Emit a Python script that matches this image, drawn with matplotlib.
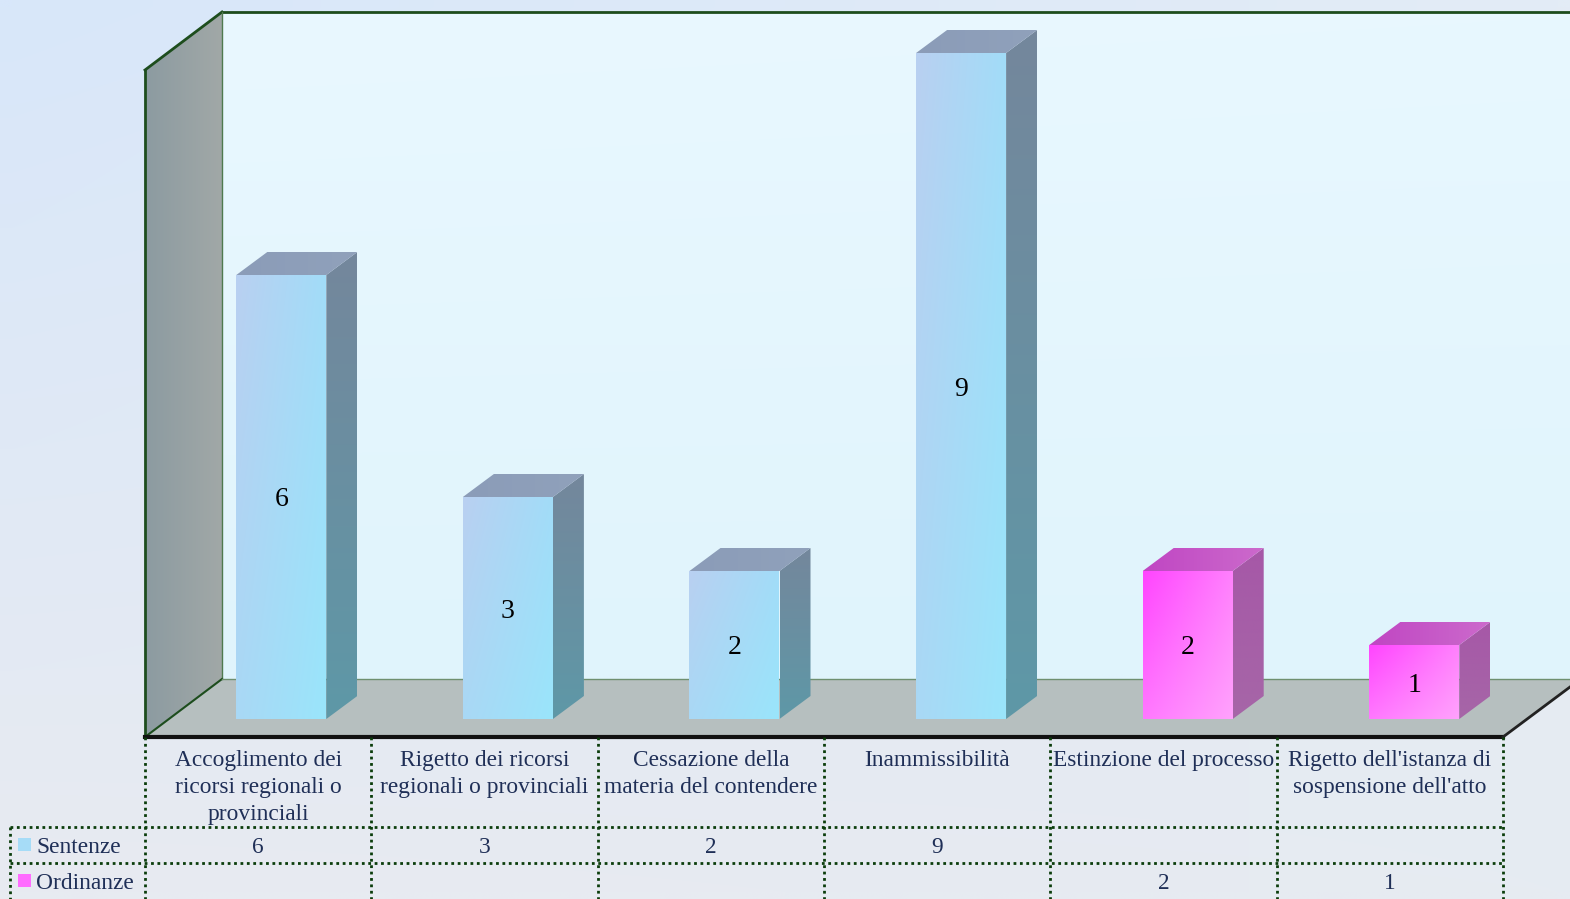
import numpy as np
import matplotlib
matplotlib.use("Agg")
import matplotlib.pyplot as plt
from matplotlib.patches import Polygon, Rectangle
from matplotlib.colors import to_rgb

# ---------------- data ----------------
categories = ["Accoglimento dei\nricorsi regionali o\nprovinciali",
              "Rigetto dei ricorsi\nregionali o provinciali",
              "Cessazione della\nmateria del contendere",
              "Inammissibilità",
              "Estinzione del processo",
              "Rigetto dell'istanza di\nsospensione dell'atto"]
series_names = ["Sentenze", "Ordinanze"]
sentenze = [6, 3, 2, 9, None, None]
ordinanze = [None, None, None, None, 2, 1]
series_values = [sentenze, ordinanze]
y_axis_max = 10

# ---------------- styles ----------------
W, H = 1570, 899
FONT = ["Liberation Serif", "DejaVu Serif"]
TXT = "#1f2f57"
series_styles = [
    dict(front=("#b9d0f1", "#a2dcf8", "#a9d8f5", "#9ae5fb"),
         side=("#74879c", "#5e98a7"), top=("#8b9cb8", "#90a1bb"), legend="#a6dcf7"),
    dict(front=("#ff45ff", "#ff80fd", "#ff78ff", "#ffa2fc"),
         side=("#a658a8", "#a666a7"), top=("#c046c3", "#cc6acc"), legend="#ff6cff"),
]

fig = plt.figure(figsize=(W / 100, H / 100), dpi=100)

# background axes in pixel coordinates (frame, table)
bg = fig.add_axes([0, 0, 1, 1])
bg.set_xlim(0, W)
bg.set_ylim(H, 0)
bg.axis("off")


def gradient(ax, extent, tl, tr, bl, br, clip=None, zorder=1, n=64):
    u = np.linspace(0, 1, n)[None, :, None]
    v = np.linspace(0, 1, n)[:, None, None]
    tl, tr, bl, br = [np.array(to_rgb(c)) for c in (tl, tr, bl, br)]
    img = (1 - u) * (1 - v) * tl + u * (1 - v) * tr + (1 - u) * v * bl + u * v * br
    im = ax.imshow(img, extent=extent, origin="upper", aspect="auto",
                   interpolation="bilinear", zorder=zorder)
    if clip is not None:
        im.set_clip_path(clip)
    return im


# page background
gradient(bg, (0, W, H, 0), "#d8e7fa", "#e3ecf6", "#e8ebf1", "#e6ebf2", zorder=0)

# back wall
bw = Polygon([(222, 12), (W, 12), (W, 679), (222, 679)], closed=True,
             facecolor="none", edgecolor="none")
bg.add_patch(bw)
gradient(bg, (222, W, 679, 12), "#e9f8ff", "#e8f8ff", "#e0f4fc", "#e0f4fc", clip=bw, zorder=1)

# left wall
lw_ = Polygon([(145, 70), (222, 12), (222, 679), (145, 737)], closed=True,
              facecolor="none", edgecolor="none")
bg.add_patch(lw_)
gradient(bg, (145, 222, 737, 12), "#8c9ba1", "#a1a8a7", "#8c9ba1", "#a1a8a7", clip=lw_, zorder=1)

# floor
floor = Polygon([(145, 737), (222, 679), (W, 679), (W, 687), (1503, 737)], closed=True,
                facecolor="#b6bfbf", edgecolor="none", zorder=2)
bg.add_patch(floor)

# frame edges
edge = "#1d4d1d"
bg.plot([145, 145], [70, 737], color=edge, lw=2, zorder=3)
bg.plot([145, 222], [70, 12], color=edge, lw=2, zorder=3)
bg.plot([222, W], [12, 12], color=edge, lw=2, zorder=3)
bg.plot([222, 222], [12, 679], color="#4f7a4f", lw=1, zorder=3)
bg.plot([145, 222], [737, 679], color=edge, lw=1.5, zorder=3)
bg.plot([222, W], [679, 679], color="#6f8f6f", lw=1, zorder=3)
bg.plot([145, 1503], [737, 737], color="#111111", lw=3, zorder=3)
bg.plot([1503, W], [737, 687], color="#222222", lw=2, zorder=3)

# ---------------- bars (chart axes on the bar front plane) ----------------
px_per_x = 1359.6 / len(categories)
px_per_y = 74.0
ax = fig.add_axes([168 / W, (H - 719) / H, 1359.6 / W, px_per_y * y_axis_max / H])
ax.set_xlim(-0.5, len(categories) - 0.5)
ax.set_ylim(0, y_axis_max)
ax.axis("off")
ax.patch.set_alpha(0)

bar_w = 90 / px_per_x
ddx = 31 / px_per_x
ddy = 23 / px_per_y

for vals, st in zip(series_values, series_styles):
    idx = [i for i, v in enumerate(vals) if v is not None]
    hs = [vals[i] for i in idx]
    bars = ax.bar(idx, hs, width=bar_w, color="none", edgecolor="none", zorder=5)
    for i, v, rect in zip(idx, hs, bars):
        x0, x1 = i - bar_w / 2, i + bar_w / 2
        # side face
        side = Polygon([(x1, 0), (x1 + ddx, ddy), (x1 + ddx, v + ddy), (x1, v)], closed=True,
                       facecolor="none", edgecolor="none")
        ax.add_patch(side)
        gradient(ax, (x1, x1 + ddx, 0, v + ddy), st["side"][0], st["side"][0],
                 st["side"][1], st["side"][1], clip=side, zorder=4)
        # top face
        top = Polygon([(x0, v), (x0 + ddx, v + ddy), (x1 + ddx, v + ddy), (x1, v)], closed=True,
                      facecolor="none", edgecolor="none")
        ax.add_patch(top)
        gradient(ax, (x0, x1 + ddx, v, v + ddy), st["top"][0], st["top"][1],
                 st["top"][0], st["top"][1], clip=top, zorder=4)
        # front face
        gradient(ax, (x0, x1, 0, v), *st["front"], clip=rect, zorder=5)
        ax.text(i, v / 2, f"{v}", ha="center", va="center_baseline", fontsize=20,
                family=FONT, color="black", zorder=7)

ax.set_xlim(-0.5, len(categories) - 0.5)
ax.set_ylim(0, y_axis_max)

# ---------------- data table ----------------
col_edges = np.linspace(145, 1503, len(categories) + 1)
tcol = "#0b3d0b"
ls = (0, (1, 1.3))
for xe in col_edges:
    bg.plot([xe, xe], [737, H], color=tcol, lw=2, ls=ls, zorder=3)
bg.plot([10, 10], [827, H], color=tcol, lw=2, ls=ls, zorder=3)
for ye in (827, 863):
    bg.plot([10, 1503], [ye, ye], color=tcol, lw=2, ls=ls, zorder=3)

FS = 16.8
for i, cat in enumerate(categories):
    cx = (col_edges[i] + col_edges[i + 1]) / 2
    bg.text(cx, 750, cat, ha="center", va="top", fontsize=FS, family=FONT,
            color=TXT, linespacing=1.39, zorder=4)

row_y = [845, 881]
for name, vals, st, ry in zip(series_names, series_values, series_styles, row_y):
    bg.add_patch(Rectangle((18, ry - 7), 13, 13, facecolor=st["legend"], edgecolor="none", zorder=4))
    bg.text(36, ry, name, ha="left", va="center_baseline", fontsize=FS, family=FONT, color=TXT, zorder=4)
    for i, v in enumerate(vals):
        if v is None:
            continue
        cx = (col_edges[i] + col_edges[i + 1]) / 2
        bg.text(cx, ry, f"{v}", ha="center", va="center_baseline", fontsize=FS, family=FONT,
                color=TXT, zorder=4)

fig.savefig("out.png", dpi=100)
